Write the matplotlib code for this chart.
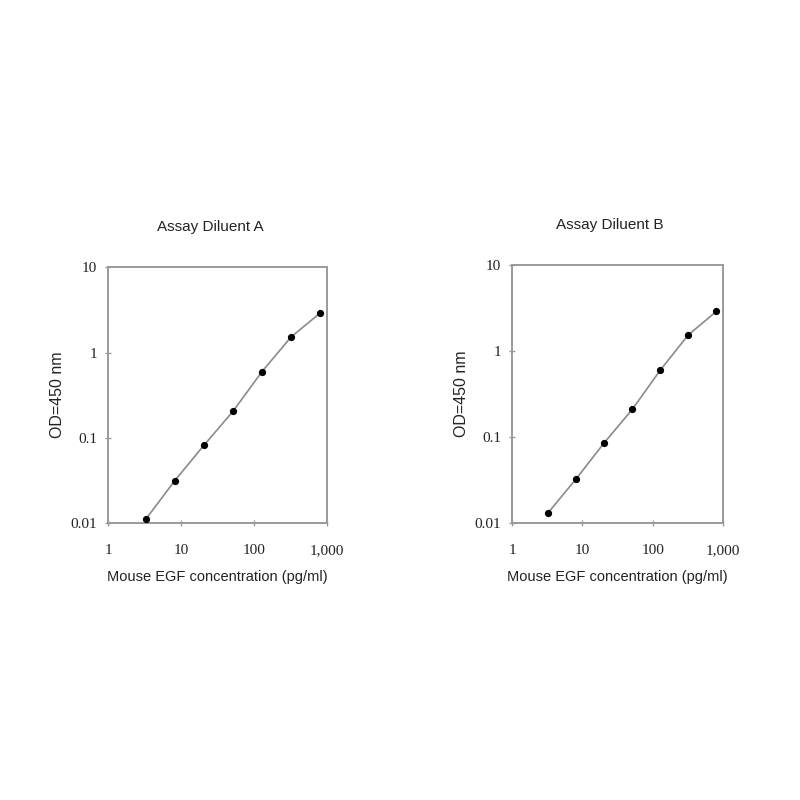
import matplotlib
matplotlib.use("Agg")
import matplotlib.pyplot as plt
from matplotlib.ticker import FixedLocator, FixedFormatter, NullLocator

conc = [3.28, 8.2, 20.5, 51.2, 128, 320, 800]
od_a = [0.0111, 0.0315, 0.0817, 0.204, 0.597, 1.52, 2.90]
od_b = [0.0133, 0.033, 0.0865, 0.211, 0.604, 1.55, 2.90]
titles = ["Assay Diluent A", "Assay Diluent B"]
x_ticks = [1, 10, 100, 1000]
x_labels = ["1", "10", "100", "1,000"]
y_ticks = [0.01, 0.1, 1, 10]
y_labels = ["0.01", "0.1", "1", "10"]
xlabel = "Mouse EGF concentration (pg/ml)"
ylabel = "OD=450 nm"

fig = plt.figure(figsize=(8, 8), dpi=100)
fig.patch.set_facecolor("white")

rects = [[0.135, 0.346, 0.274, 0.32], [0.64, 0.346, 0.264, 0.3225]]
frame = "#9a9a9a"
for rect, od, title in zip(rects, [od_a, od_b], titles):
    ax = fig.add_axes(rect)
    ax.plot(conc, od, color="#8a8a8a", lw=1.2, marker="o", ms=4.2,
            mfc="black", mec="black", zorder=3)
    ax.set_xscale("log")
    ax.set_yscale("log")
    ax.set_xlim(1, 1000)
    ax.set_ylim(0.01, 10)
    ax.xaxis.set_major_locator(FixedLocator(x_ticks))
    ax.xaxis.set_major_formatter(FixedFormatter(x_labels))
    ax.yaxis.set_major_locator(FixedLocator(y_ticks))
    ax.yaxis.set_major_formatter(FixedFormatter(y_labels))
    ax.xaxis.set_minor_locator(NullLocator())
    ax.yaxis.set_minor_locator(NullLocator())
    for s in ax.spines.values():
        s.set_color(frame)
        s.set_linewidth(1.4)
    ax.tick_params(axis="both", direction="inout", length=4, width=1,
                   color=frame, labelsize=11)
    ax.tick_params(axis="x", pad=13)
    ax.tick_params(axis="y", pad=6)
    for lab in ax.get_xticklabels() + ax.get_yticklabels():
        lab.set_family("Liberation Serif")
        lab.set_color("#222222")
    ax.set_title(title, fontsize=11, family="Liberation Sans", pad=26,
                 color="#222222", x=0.465)
    ax.set_xlabel(xlabel, fontsize=10.5, family="Liberation Sans",
                  labelpad=9, color="#222222")
    ax.set_ylabel(ylabel, fontsize=11.5, family="Liberation Sans",
                  labelpad=4, color="#222222")

fig.savefig("out.png", dpi=100)
